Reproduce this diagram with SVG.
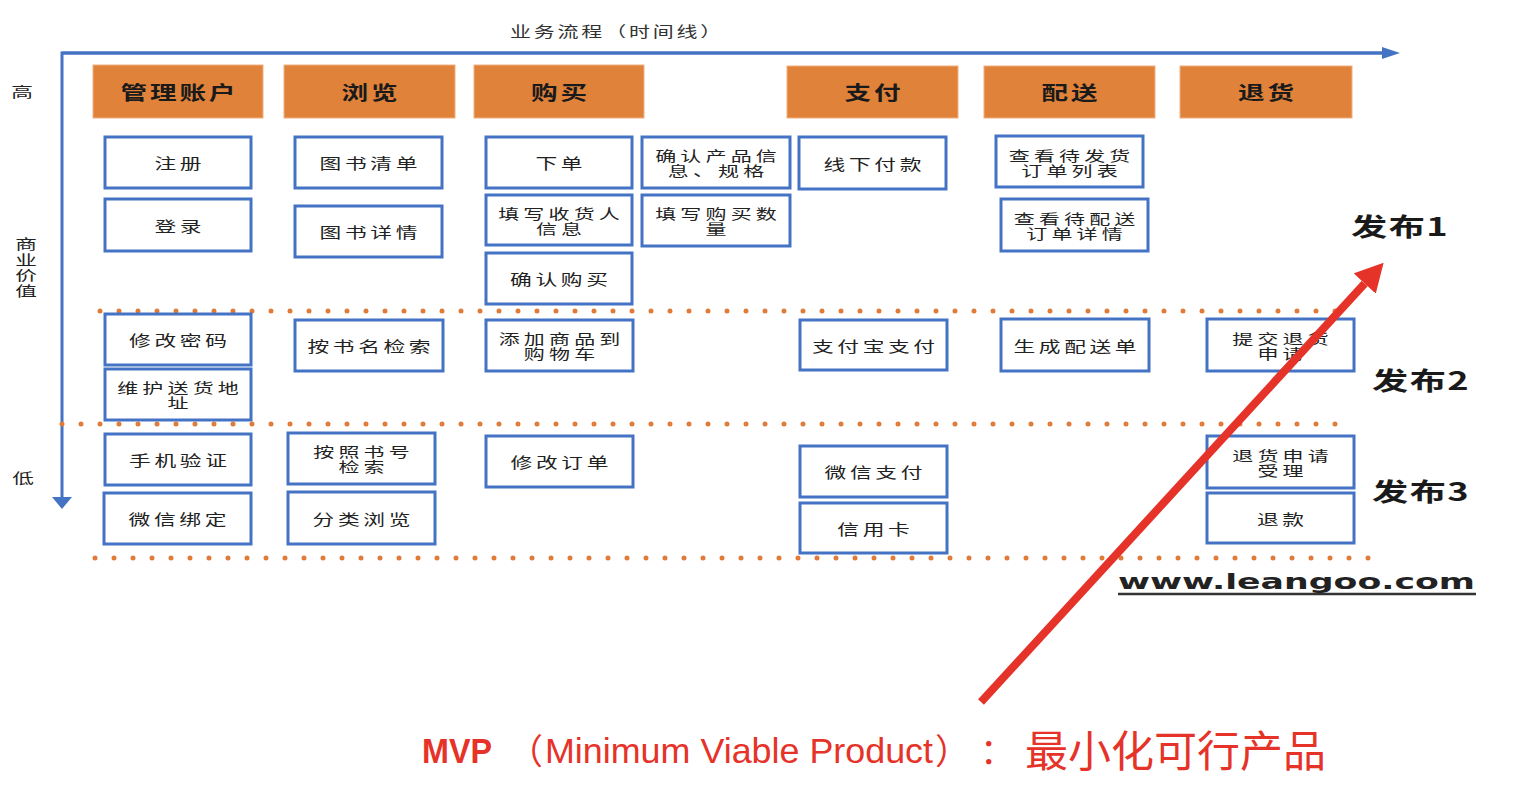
<svg xmlns="http://www.w3.org/2000/svg" width="1522" height="804" viewBox="0 0 1522 804">
<style>
.bx{fill:#fff;stroke:#4472C4;stroke-width:3}
.hd{fill:#E1823A;stroke:#F0B080;stroke-width:1}
.t{font-family:"Noto Sans CJK SC",sans-serif;font-size:15px;fill:#222;text-anchor:middle;dominant-baseline:central;letter-spacing:2.5px}
.t2{font-family:"Noto Sans CJK SC",sans-serif;font-size:14px;fill:#222;text-anchor:middle;dominant-baseline:central;letter-spacing:2.8px}
.ht{font-family:"Noto Sans CJK SC",sans-serif;font-size:19px;font-weight:700;fill:#1a1a1a;text-anchor:middle;dominant-baseline:central;letter-spacing:2px}
.lb{font-family:"Noto Sans CJK SC",sans-serif;font-size:14px;fill:#222;text-anchor:middle;dominant-baseline:central}
.rel{font-family:"Noto Sans CJK SC",sans-serif;font-size:25px;font-weight:700;fill:#1a1a1a;letter-spacing:1px}
.dot{stroke:#E07B39;stroke-width:5;stroke-linecap:round;stroke-dasharray:0 19;fill:none}
.axis{stroke:#4472C4;stroke-width:3;fill:none}
.red{fill:#E63329;font-family:"Liberation Sans",Arial,sans-serif}
.redc{fill:#E63329;font-family:"Noto Sans CJK SC",sans-serif}
</style>
<defs>
<marker id="ah" viewBox="0 0 18 12" refX="0" refY="6" markerWidth="18" markerHeight="12" markerUnits="userSpaceOnUse" orient="auto">
<path d="M0,0 L18,6 L0,12 z" fill="#4472C4"/>
</marker>
<marker id="ahv" viewBox="0 0 12 20" refX="0" refY="10" markerWidth="12" markerHeight="20" markerUnits="userSpaceOnUse" orient="auto">
<path d="M0,0 L12,10 L0,20 z" fill="#4472C4"/>
</marker>
<marker id="rh" viewBox="0 0 28 30" refX="0" refY="15" markerWidth="28" markerHeight="30" markerUnits="userSpaceOnUse" orient="auto">
<path d="M0,0 L28,15 L0,30 z" fill="#E63329"/>
</marker>
</defs>

<g id="title">
<text transform="translate(510 37) scale(1.4 1)" style="font-family:'Noto Sans CJK SC',sans-serif;font-size:15px;fill:#333;letter-spacing:2px">业务流程（时间线）</text>
</g>

<g id="axes">
<path class="axis" d="M1382,53 L62,53 L62,497" marker-end="url(#ahv)"/>
<line class="axis" x1="62" y1="53" x2="1382" y2="53" marker-end="url(#ah)"/>
</g>

<g id="axis-labels">
<text class="lb" transform="translate(22 91) scale(1.55 1)">高</text>
<text class="lb" transform="translate(26 243) scale(1.55 1)">商</text>
<text class="lb" transform="translate(26 258.5) scale(1.55 1)">业</text>
<text class="lb" transform="translate(26 274) scale(1.55 1)">价</text>
<text class="lb" transform="translate(26 289.5) scale(1.55 1)">值</text>
<text class="lb" transform="translate(23 476.5) scale(1.55 1)">低</text>
</g>

<g id="dividers">
<line class="dot" x1="100" y1="311" x2="1354" y2="311"/>
<line class="dot" x1="62" y1="424" x2="1350" y2="424"/>
<line class="dot" x1="95" y1="558" x2="1383" y2="558"/>
</g>

<g id="header-manage"><rect class="hd" x="93" y="65" width="170" height="53"/><text class="ht" transform="translate(178 91.5) scale(1.4 1)" x="1">管理账户</text></g>
<g id="header-browse"><rect class="hd" x="284" y="65" width="171" height="53"/><text class="ht" transform="translate(369.5 91.5) scale(1.4 1)" x="1">浏览</text></g>
<g id="header-buy"><rect class="hd" x="474" y="65" width="170" height="53"/><text class="ht" transform="translate(559 91.5) scale(1.4 1)" x="1">购买</text></g>
<g id="header-pay"><rect class="hd" x="787" y="66" width="171" height="52"/><text class="ht" transform="translate(872.5 92) scale(1.4 1)" x="1">支付</text></g>
<g id="header-ship"><rect class="hd" x="984" y="66" width="171" height="52"/><text class="ht" transform="translate(1069.5 92) scale(1.4 1)" x="1">配送</text></g>
<g id="header-return"><rect class="hd" x="1180" y="66" width="172" height="52"/><text class="ht" transform="translate(1266 92) scale(1.4 1)" x="1">退货</text></g>

<g id="n-register"><rect class="bx" x="105" y="137" width="146" height="51"/><text class="t" transform="translate(178 162.5) scale(1.45 1)" x="1.25">注册</text></g>
<g id="n-login"><rect class="bx" x="105" y="199" width="146" height="52"/><text class="t" transform="translate(178 225) scale(1.45 1)" x="1.25">登录</text></g>
<g id="n-booklist"><rect class="bx" x="295" y="137" width="147" height="51"/><text class="t" transform="translate(368.5 162.5) scale(1.45 1)" x="1.25">图书清单</text></g>
<g id="n-bookdetail"><rect class="bx" x="295" y="206" width="147" height="51"/><text class="t" transform="translate(368.5 231.5) scale(1.45 1)" x="1.25">图书详情</text></g>
<g id="n-order"><rect class="bx" x="486" y="137" width="146" height="51"/><text class="t" transform="translate(559 162.5) scale(1.45 1)" x="1.25">下单</text></g>
<g id="n-consignee"><rect class="bx" x="486" y="195" width="146" height="50"/><text class="t2" transform="translate(559 220) scale(1.5 1)"><tspan x="1.4" y="-7.5">填写收货人</tspan><tspan x="1.4" y="7.5">信息</tspan></text></g>
<g id="n-confirmbuy"><rect class="bx" x="486" y="253" width="146" height="51"/><text class="t" transform="translate(559 278.5) scale(1.45 1)" x="1.25">确认购买</text></g>
<g id="n-confirmspec"><rect class="bx" x="642" y="137" width="148" height="51"/><text class="t2" transform="translate(716 162.5) scale(1.5 1)"><tspan x="1.4" y="-7.5">确认产品信</tspan><tspan x="1.4" y="7.5">息、规格</tspan></text></g>
<g id="n-quantity"><rect class="bx" x="642" y="195" width="148" height="51"/><text class="t2" transform="translate(716 220.5) scale(1.5 1)"><tspan x="1.4" y="-7.5">填写购买数</tspan><tspan x="1.4" y="7.5">量</tspan></text></g>
<g id="n-offline"><rect class="bx" x="799" y="137" width="147" height="52"/><text class="t" transform="translate(872.5 163) scale(1.45 1)" x="1.25">线下付款</text></g>
<g id="n-pendinglist"><rect class="bx" x="996" y="136" width="147" height="51"/><text class="t2" transform="translate(1069.5 162.5) scale(1.5 1)"><tspan x="1.4" y="-7.5">查看待发货</tspan><tspan x="1.4" y="7.5">订单列表</tspan></text></g>
<g id="n-pendingdetail"><rect class="bx" x="1001" y="199" width="147" height="52"/><text class="t2" transform="translate(1074.5 225.5) scale(1.5 1)"><tspan x="1.4" y="-7.5">查看待配送</tspan><tspan x="1.4" y="7.5">订单详情</tspan></text></g>

<g id="n-changepwd"><rect class="bx" x="105" y="314" width="146" height="51"/><text class="t" transform="translate(178 339.5) scale(1.45 1)" x="1.25">修改密码</text></g>
<g id="n-address"><rect class="bx" x="105" y="369" width="146" height="51"/><text class="t2" transform="translate(178 394.5) scale(1.5 1)"><tspan x="1.4" y="-7.5">维护送货地</tspan><tspan x="1.4" y="7.5">址</tspan></text></g>
<g id="n-searchname"><rect class="bx" x="295" y="320" width="148" height="51"/><text class="t" transform="translate(369 345.5) scale(1.45 1)" x="1.25">按书名检索</text></g>
<g id="n-cart"><rect class="bx" x="486" y="320" width="147" height="51"/><text class="t2" transform="translate(559.5 345.5) scale(1.5 1)"><tspan x="1.4" y="-7.5">添加商品到</tspan><tspan x="1.4" y="7.5">购物车</tspan></text></g>
<g id="n-alipay"><rect class="bx" x="800" y="320" width="147" height="50"/><text class="t" transform="translate(873.5 345) scale(1.45 1)" x="1.25">支付宝支付</text></g>
<g id="n-shipnote"><rect class="bx" x="1001" y="319" width="148" height="52"/><text class="t" transform="translate(1075 345) scale(1.45 1)" x="1.25">生成配送单</text></g>
<g id="n-returnreq"><rect class="bx" x="1207" y="319" width="147" height="52"/><text class="t2" transform="translate(1280.5 345) scale(1.5 1)"><tspan x="1.4" y="-7.5">提交退货</tspan><tspan x="1.4" y="7.5">申请</tspan></text></g>

<g id="n-phone"><rect class="bx" x="105" y="434" width="146" height="51"/><text class="t" transform="translate(178 459.5) scale(1.45 1)" x="1.25">手机验证</text></g>
<g id="n-wechatbind"><rect class="bx" x="104" y="493" width="147" height="51"/><text class="t" transform="translate(177.5 518.5) scale(1.45 1)" x="1.25">微信绑定</text></g>
<g id="n-searchisbn"><rect class="bx" x="288" y="433" width="147" height="51"/><text class="t2" transform="translate(361.5 458.5) scale(1.5 1)"><tspan x="1.4" y="-7.5">按照书号</tspan><tspan x="1.4" y="7.5">检索</tspan></text></g>
<g id="n-category"><rect class="bx" x="288" y="492" width="147" height="52"/><text class="t" transform="translate(361.5 518) scale(1.45 1)" x="1.25">分类浏览</text></g>
<g id="n-editorder"><rect class="bx" x="486" y="436" width="147" height="51"/><text class="t" transform="translate(559.5 461.5) scale(1.45 1)" x="1.25">修改订单</text></g>
<g id="n-wechatpay"><rect class="bx" x="800" y="446" width="147" height="51"/><text class="t" transform="translate(873.5 471.5) scale(1.45 1)" x="1.25">微信支付</text></g>
<g id="n-credit"><rect class="bx" x="800" y="503" width="147" height="50"/><text class="t" transform="translate(873.5 528) scale(1.45 1)" x="1.25">信用卡</text></g>
<g id="n-returnhandle"><rect class="bx" x="1207" y="436" width="147" height="52"/><text class="t2" transform="translate(1280.5 462) scale(1.5 1)"><tspan x="1.4" y="-7.5">退货申请</tspan><tspan x="1.4" y="7.5">受理</tspan></text></g>
<g id="n-refund"><rect class="bx" x="1207" y="493" width="147" height="50"/><text class="t" transform="translate(1280.5 518) scale(1.45 1)" x="1.25">退款</text></g>

<g id="releases">
<text class="rel" transform="translate(1351 236) scale(1.45 1)">发布1</text>
<text class="rel" transform="translate(1372 390) scale(1.45 1)">发布2</text>
<text class="rel" transform="translate(1372 501) scale(1.45 1)">发布3</text>
</g>

<g id="website">
<text x="1118" y="589" textLength="357" lengthAdjust="spacingAndGlyphs" style="font-family:'DejaVu Sans',sans-serif;font-weight:700;font-size:22px;fill:#222">www.leangoo.com</text>
<line x1="1118" y1="594" x2="1476" y2="594" stroke="#333" stroke-width="2.5"/>
</g>

<g id="connectors">
<line x1="981" y1="702" x2="1364.7" y2="283.5" stroke="#E63329" stroke-width="8" marker-end="url(#rh)"/>
</g>

<g id="mvp">
<text class="red" x="422" y="763" textLength="70" lengthAdjust="spacingAndGlyphs" style="font-size:35px;font-weight:700">MVP</text>
<text class="redc" x="508" y="764" style="font-size:35px">（</text>
<text class="red" x="545" y="763" textLength="388" lengthAdjust="spacingAndGlyphs" style="font-size:35px">Minimum Viable Product</text>
<text class="redc" x="935" y="764" style="font-size:35px">）</text>
<text class="redc" x="980" y="764" style="font-size:35px">：</text>
<text class="redc" x="1025" y="767" style="font-size:43px">最小化可行产品</text>
</g>
</svg>
